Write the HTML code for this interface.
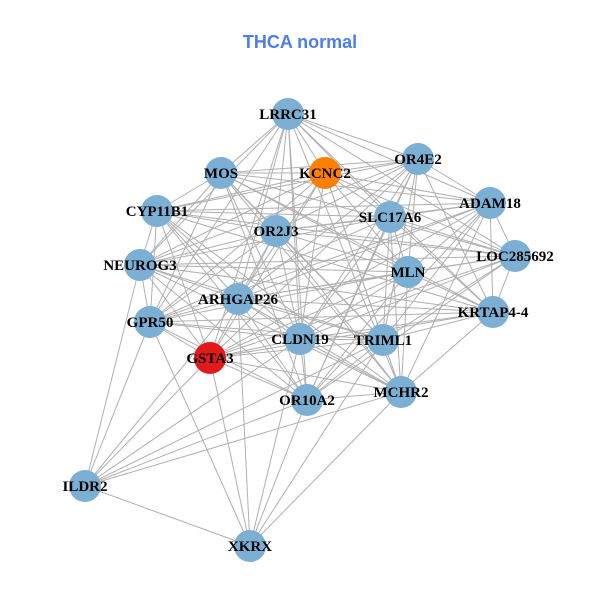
<!DOCTYPE html>
<html><head><meta charset="utf-8"><style>
html,body{margin:0;padding:0;background:#fff;width:600px;height:600px;overflow:hidden}
</style></head><body>
<svg id="s" width="600" height="600" xmlns="http://www.w3.org/2000/svg">
<text x="300" y="48" text-anchor="middle" font-family="Liberation Sans, sans-serif" font-weight="bold" font-size="18" fill="#4f7cec">THCA normal</text>
<g id="e" stroke="#b0b0b0" stroke-width="1"></g>
<g id="n"></g>
</svg>
<script>
var N={LRRC31:[288,114],MOS:[221,173],KCNC2:[325,173],OR4E2:[418,159],ADAM18:[490,203],CYP11B1:[157,211],SLC17A6:[390,217],OR2J3:[276,231],LOC285692:[515,256],NEUROG3:[140,265],MLN:[408,272],ARHGAP26:[238,299],"KRTAP4-4":[493,312],GPR50:[150,322],CLDN19:[300,339],TRIML1:[383,340],GSTA3:[210,358],OR10A2:[307,400],MCHR2:[401,392],ILDR2:[85,486],XKRX:[250,546]};
var main=Object.keys(N).filter(k=>k!="ILDR2"&&k!="XKRX");
var E=[];
for(var i=0;i<main.length;i++)for(var j=i+1;j<main.length;j++){if((i*7+j*3)%5!=0)E.push([main[i],main[j]]);}
["NEUROG3","GPR50","GSTA3","ARHGAP26","CLDN19","OR10A2","MCHR2","TRIML1","XKRX"].forEach(k=>E.push(["ILDR2",k]));
["GPR50","GSTA3","ARHGAP26","CLDN19","OR10A2","TRIML1","MCHR2"].forEach(k=>E.push(["XKRX",k]));
var ns="http://www.w3.org/2000/svg",eg=document.getElementById("e"),ng=document.getElementById("n");
E.forEach(p=>{var l=document.createElementNS(ns,"line");var a=N[p[0]],b=N[p[1]];l.setAttribute("x1",a[0]);l.setAttribute("y1",a[1]);l.setAttribute("x2",b[0]);l.setAttribute("y2",b[1]);eg.appendChild(l);});
for(var k in N){var c=document.createElementNS(ns,"circle");c.setAttribute("cx",N[k][0]);c.setAttribute("cy",N[k][1]);c.setAttribute("r",16);c.setAttribute("fill",k=="KCNC2"?"#ff8000":k=="GSTA3"?"#e31a1c":"#7bafd4");ng.appendChild(c);}
for(var k in N){var t=document.createElementNS(ns,"text");t.setAttribute("x",N[k][0]);t.setAttribute("y",N[k][1]+5);t.setAttribute("text-anchor","middle");t.setAttribute("font-family","Liberation Serif, serif");t.setAttribute("font-weight","bold");t.setAttribute("font-size","15");t.textContent=k;ng.appendChild(t);}
</script>
</body></html>
